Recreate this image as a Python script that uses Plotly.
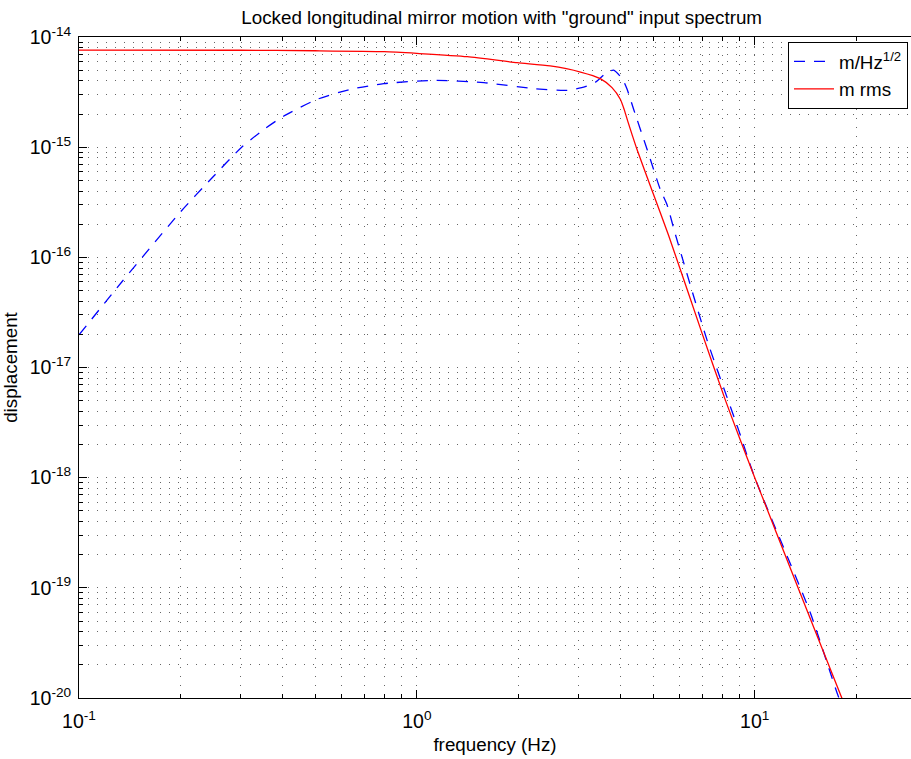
import numpy as np
import plotly.graph_objects as go

# ---- data ----
blue_freq = [0.1, 0.134, 0.2, 0.247, 0.303, 0.356, 0.404, 0.507, 0.636, 0.798, 1.12, 1.58,
             2.22, 2.78, 3.15, 3.38, 3.62, 3.82, 4.05, 4.19, 4.38, 4.8, 5.25, 5.5, 5.82,
             7.22, 8.96, 10.0, 14.6, 17.7, 20.0]
blue_disp = [1.98e-17, 6.0e-17, 2.6e-16, 5.22e-16, 1.0e-15, 1.48e-15, 1.92e-15, 2.72e-15,
             3.35e-15, 3.77e-15, 4.04e-15, 3.85e-15, 3.4e-15, 3.28e-15, 3.54e-15, 3.9e-15,
             4.68e-15, 5.0e-15, 4.19e-15, 3.35e-15, 2.21e-15, 9.57e-16, 4.15e-16, 3.0e-16,
             1.62e-16, 1.78e-17, 2.7e-18, 1.0e-18, 5.93e-20, 1.02e-20, 4.0e-21]

red_freq = [0.1, 0.3, 0.5, 0.8, 1.0, 1.41, 1.98, 2.48, 3.05, 3.49, 3.78, 4.0, 4.11, 4.224,
            4.341, 4.48, 4.95, 5.56, 6.98, 8.18, 9.02, 10.0, 13.43, 18.1, 20.0]
red_disp = [7.6e-15, 7.58e-15, 7.5e-15, 7.36e-15, 7.1e-15, 6.63e-15, 5.85e-15, 5.46e-15,
            4.81e-15, 4.19e-15, 3.47e-15, 2.72e-15, 2.18e-15, 1.66e-15, 1.28e-15, 9.57e-16,
            4.15e-16, 1.58e-16, 2.05e-17, 5.08e-18, 2.28e-18, 1.0e-18, 1.0e-19, 1.0e-20, 4.7e-21]

x_exponents = [-1, 0, 1]
y_exponents = [-20, -19, -18, -17, -16, -15, -14]

title_text = 'Locked longitudinal mirror motion with "ground" input spectrum'
x_title = "frequency (Hz)"
y_title = "displacement"
names = ["m/Hz<sup>1/2</sup>", "m rms"]

FONT = "Liberation Sans, Arial, Helvetica, sans-serif"
FS = 18.8
TFS = 19.5

x_tickvals = [10.0 ** e for e in x_exponents]
x_ticktext = [f"10<sup>{e}</sup>" for e in x_exponents]
y_tickvals = [10.0 ** e for e in y_exponents]
y_ticktext = [f"10<sup>{e}</sup>" for e in y_exponents]

x_minor = [m * 10.0 ** e for e in range(-1, 2) for m in range(2, 10)]
y_minor = [m * 10.0 ** e for e in range(-20, -14) for m in range(2, 10)]

fig = go.Figure()
fig.add_trace(go.Scatter(x=blue_freq, y=blue_disp, mode="lines", name=names[0],
                         line=dict(color="rgb(0,0,255)", width=1.3, dash="11px,9px",
                                   shape="spline", smoothing=0.6)))
fig.add_trace(go.Scatter(x=red_freq, y=red_disp, mode="lines", name=names[1],
                         line=dict(color="rgb(255,0,0)", width=1.3,
                                   shape="spline", smoothing=0.6)))

grid = dict(showgrid=True, gridcolor="rgba(0,0,0,0.6)", gridwidth=1, griddash="1px,8px")

fig.update_xaxes(type="log", range=[-1, np.log10(29.0)],
                 tickmode="array", tickvals=x_tickvals, ticktext=x_ticktext,
                 ticks="inside", ticklen=8, tickcolor="black", tickwidth=1,
                 showline=True, linecolor="black", linewidth=1, mirror="ticks",
                 zeroline=False, ticklabelstandoff=6,
                 tickfont=dict(family=FONT, size=TFS, color="black"),
                 title=dict(text=x_title, font=dict(family=FONT, size=FS, color="black"), standoff=6),
                 minor=dict(tickmode="array", tickvals=x_minor, ticks="inside", ticklen=4,
                            tickcolor="black", **grid),
                 **grid)
fig.update_yaxes(type="log", range=[-20, -14],
                 tickmode="array", tickvals=y_tickvals, ticktext=y_ticktext,
                 ticks="inside", ticklen=8, tickcolor="black", tickwidth=1,
                 showline=True, linecolor="black", linewidth=1, mirror=False,
                 zeroline=False, ticklabelstandoff=3,
                 tickfont=dict(family=FONT, size=TFS, color="black"),
                 title=dict(text=y_title, font=dict(family=FONT, size=FS, color="black"), standoff=9),
                 minor=dict(tickmode="array", tickvals=y_minor, ticks="inside", ticklen=4,
                            tickcolor="black", **grid),
                 **grid)

fig.update_layout(
    width=911, height=759,
    margin=dict(l=79, r=0, t=37, b=61, autoexpand=False),
    paper_bgcolor="white", plot_bgcolor="white",
    font=dict(family=FONT, size=FS, color="black"),
    title=dict(text=title_text, x=0.508, xref="paper", xanchor="center",
               y=1 - 17 / 759, yref="container", yanchor="middle",
               font=dict(family=FONT, size=FS, color="black")),
    showlegend=True,
    legend=dict(x=0.9964, y=0.993, xanchor="right", yanchor="top",
                bgcolor="white", bordercolor="black", borderwidth=1,
                font=dict(family=FONT, size=FS, color="black"),
                itemwidth=40, tracegroupgap=0),
)

fig.write_html("out.html", config={"displayModeBar": False},
               post_script="document.body.style.margin='0';document.body.style.overflow='hidden';")
